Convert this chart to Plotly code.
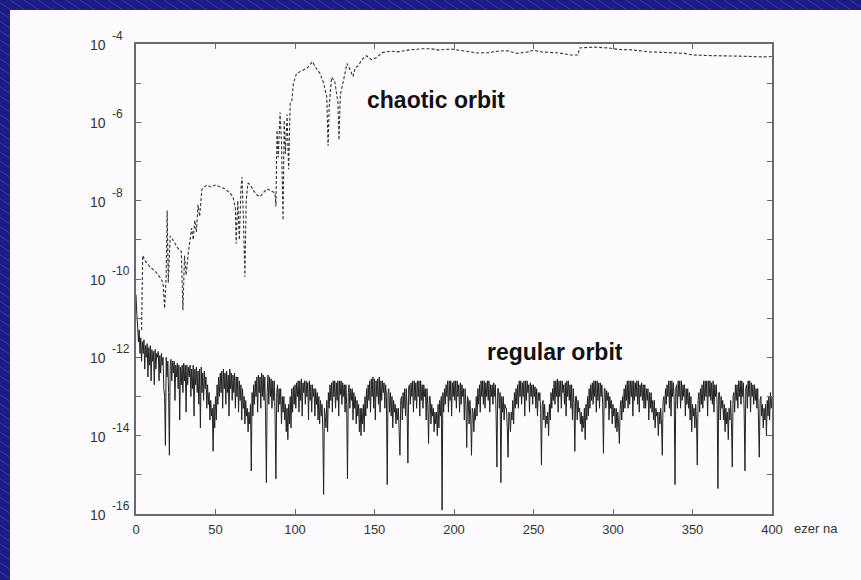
import plotly.graph_objects as go

# ---------------- data (y values as log10 exponents) -------------
CHAOTIC_X = [3.5, 4.2, 6, 9, 12, 15, 17, 18, 19, 19.6, 20.3, 21.5, 24, 26, 28.5, 29.5, 30.5,
             31.5, 33, 35, 36, 37, 38, 39, 40, 41.5, 44.5, 47, 50, 53, 56, 59, 61, 62.5, 63,
             64, 65, 66, 66.7, 67.5, 68.5, 69.3, 70.4, 72, 74, 76, 78, 80, 82.4, 85, 87.4, 88,
             88.7, 89.5, 90.6, 91.5, 92.5, 93.2, 94, 95, 96, 97, 98, 99, 101, 105, 108, 111,
             113, 115.7, 118, 120, 120.8, 121.5, 123, 125, 127, 127.7, 128.5, 129.6, 132.7,
             134, 136.5, 138, 140, 142, 145, 148, 151, 155, 160, 165, 172, 180, 185, 190, 198,
             207, 215, 222, 228, 233, 240, 247, 250, 255, 262, 268, 273, 278, 279, 288, 297,
             303, 312, 323, 335, 345, 350, 365, 380, 395, 400]
CHAOTIC_LOG = [-11.3, -9.4, -9.55, -9.7, -9.8, -9.95, -10.1, -10.75, -9.9, -8.25, -10.1, -8.9,
               -9.05, -9.2, -9.3, -10.8, -9.4, -9.9, -9.3, -8.7, -9.0, -8.5, -8.8, -8.1, -8.4,
               -7.7, -7.6, -7.65, -7.6, -7.65, -7.7, -7.8, -7.9, -8.2, -9.1, -8.0, -9.0, -7.7,
               -7.4, -8.4, -9.95, -8.0, -7.55, -7.6, -7.75, -7.85, -7.9, -7.8, -7.7, -7.75,
               -7.8, -8.15, -6.2, -6.9, -5.75, -6.5, -8.5, -5.95, -6.8, -5.8, -7.2, -5.5,
               -5.45, -5.0, -4.75, -4.67, -4.6, -4.45, -4.6, -4.75, -5.0, -5.35, -6.6, -5.6,
               -4.85, -4.95, -5.5, -6.45, -5.3, -5.1, -4.5, -4.6, -4.83, -4.6, -4.55, -4.4,
               -4.3, -4.4, -4.35, -4.22, -4.18, -4.2, -4.15, -4.12, -4.12, -4.15, -4.13,
               -4.18, -4.23, -4.22, -4.18, -4.17, -4.24, -4.2, -4.16, -4.2, -4.22, -4.24,
               -4.28, -4.28, -4.1, -4.08, -4.1, -4.14, -4.15, -4.2, -4.22, -4.24, -4.28, -4.3,
               -4.31, -4.33, -4.32]

# regular orbit, sampled every 0.5 (thousand years) from 0 to 400
REGULAR_LOG = [
    -10.4, -10.9, -11.2, -11.6, -11.3, -11.9, -11.5, -12.1, -11.6, -11.9, -11.55, -12.3, -11.7, -12.0, -11.65, -12.5, -11.75, -12.2, -11.7, -12.6,
    -11.8, -12.1, -11.85, -12.7, -11.8, -12.3, -11.9, -12.0, -11.85, -12.6, -11.95, -12.4, -11.9, -12.2, -12.0, -12.8, -13.0, -14.25, -12.0, -12.5,
    -12.1, -12.9, -14.5, -12.2, -12.05, -12.6, -12.1, -12.4, -12.1, -13.1, -12.2, -12.5, -12.15, -12.8, -12.2, -13.6, -12.25, -12.7, -12.2, -12.9,
    -12.15, -12.6, -12.2, -13.4, -12.2, -12.7, -12.25, -12.5, -12.2, -13.0, -12.3, -12.8, -12.2, -13.5, -12.3, -12.7, -12.25, -12.9, -12.35, -13.2,
    -12.3, -13.8, -12.25, -12.9, -12.4, -13.1, -12.35, -12.8, -12.5, -13.3, -12.7, -13.2, -12.9, -13.6, -13.1, -13.5, -13.3, -14.4, -13.2, -13.8,
    -13.0, -13.6, -12.7, -13.2, -12.5, -13.0, -12.4, -12.9, -12.35, -13.3, -12.3, -12.8, -12.4, -13.2, -12.35, -12.9, -12.45, -13.5, -12.3, -12.8,
    -12.4, -13.1, -12.45, -12.9, -12.4, -13.3, -12.5, -13.0, -12.5, -13.4, -12.6, -13.1, -12.7, -13.6, -12.8, -13.3, -13.0, -13.7, -13.1, -13.5,
    -13.3, -13.9, -13.4, -13.7, -13.2, -14.9, -12.9, -13.5, -12.7, -13.2, -12.6, -13.0, -12.5, -13.4, -12.45, -12.9, -12.5, -13.3, -12.4, -13.0,
    -12.45, -13.1, -12.5, -13.5, -15.2, -12.9, -12.45, -13.2, -12.5, -13.0, -12.55, -13.3, -12.6, -13.1, -12.6, -13.6, -15.1, -12.9, -12.7, -13.4,
    -12.8, -13.2, -12.8, -13.7, -13.0, -13.4, -13.0, -13.6, -13.2, -13.9, -13.3, -14.1, -13.2, -13.7, -13.0, -13.8, -12.8, -13.4, -12.75, -13.2,
    -12.7, -13.3, -12.65, -13.0, -12.6, -13.4, -12.6, -13.1, -12.55, -13.5, -12.65, -12.9, -12.6, -13.2, -12.6, -13.0, -12.65, -13.6, -12.6, -13.1,
    -12.7, -13.4, -12.7, -13.0, -12.8, -13.5, -12.8, -13.2, -12.9, -13.6, -13.0, -13.7, -13.1, -13.5, -13.2, -13.9, -15.5, -13.3, -13.5, -13.8,
    -13.1, -13.9, -12.9, -13.3, -12.7, -13.1, -12.65, -13.4, -12.6, -13.0, -12.6, -13.3, -12.65, -13.1, -12.6, -13.5, -12.6, -12.95, -12.6, -13.2,
    -12.65, -13.0, -12.7, -13.4, -12.7, -13.2, -15.1, -12.9, -12.7, -13.3, -12.8, -13.1, -12.8, -13.6, -12.9, -13.3, -13.0, -13.7, -13.1, -13.5,
    -13.2, -13.9, -13.3, -14.0, -13.3, -13.7, -13.2, -13.9, -13.0, -13.5, -12.8, -13.3, -12.7, -13.1, -12.6, -13.4, -12.55, -13.0, -12.5, -13.3,
    -12.55, -13.6, -12.6, -13.0, -12.55, -13.2, -12.5, -13.4, -12.6, -13.1, -12.6, -12.9, -12.65, -13.3, -12.7, -13.0, -15.25, -12.9, -12.8, -13.4,
    -12.9, -13.5, -13.0, -13.8, -13.1, -13.4, -13.2, -13.7, -13.3, -13.6, -13.3, -13.9, -14.5, -13.1, -13.0, -13.6, -12.9, -13.3, -12.8, -13.5,
    -12.8, -13.3, -14.7, -12.75, -12.7, -13.2, -12.65, -13.0, -12.6, -13.4, -12.6, -13.1, -12.65, -13.3, -12.6, -13.0, -12.6, -13.5, -12.6, -13.1,
    -12.7, -13.3, -12.7, -13.0, -12.8, -13.6, -12.8, -13.2, -14.2, -13.0, -13.0, -13.7, -13.2, -13.5, -13.3, -13.9, -13.4, -13.7, -13.4, -14.0,
    -13.2, -13.8, -13.1, -13.5, -13.0, -15.9, -12.9, -13.4, -12.8, -13.2, -12.7, -13.0, -12.6, -13.4, -12.6, -13.1, -12.6, -13.5, -12.65, -13.0,
    -12.6, -13.1, -12.6, -13.3, -12.6, -13.0, -12.7, -13.4, -12.65, -13.2, -12.7, -13.0, -12.8, -13.6, -12.8, -13.2, -14.3, -13.0, -13.1, -13.7,
    -13.1, -13.5, -14.5, -13.3, -13.4, -13.9, -13.3, -13.6, -13.0, -13.5, -12.8, -13.2, -12.7, -13.4, -12.6, -13.0, -12.6, -13.2, -12.6, -13.3,
    -12.65, -13.0, -12.6, -13.1, -12.6, -13.4, -12.7, -13.0, -12.7, -13.2, -12.65, -13.0, -12.7, -13.5, -14.8, -12.8, -12.8, -13.3, -12.9, -15.2,
    -13.0, -13.4, -13.0, -13.6, -13.2, -13.3, -13.3, -13.8, -14.55, -13.4, -13.5, -13.9, -13.4, -13.6, -13.1, -13.7, -12.9, -13.3, -12.8, -13.2,
    -12.7, -13.3, -12.6, -13.0, -12.6, -13.2, -12.65, -13.0, -12.6, -13.5, -12.6, -13.1, -12.6, -12.9, -12.7, -13.4, -12.65, -13.0, -12.7, -13.2,
    -12.7, -13.0, -12.75, -13.3, -12.8, -13.5, -12.9, -13.1, -12.9, -13.4, -14.75, -13.2, -13.1, -13.6, -13.2, -13.8, -13.5, -13.7, -13.4, -14.0,
    -13.2, -13.6, -12.9, -13.3, -12.8, -13.1, -12.6, -13.2, -12.6, -13.0, -12.55, -13.4, -12.6, -13.0, -12.6, -13.3, -12.6, -12.9, -12.7, -13.2,
    -12.65, -13.5, -12.6, -13.0, -12.6, -13.1, -12.7, -13.3, -12.7, -13.6, -12.8, -13.2, -14.4, -13.0, -13.0, -13.6, -13.1, -13.4, -13.3, -13.7,
    -13.4, -13.9, -13.5, -13.8, -13.3, -14.1, -13.2, -13.6, -13.0, -13.5, -12.8, -13.3, -12.7, -13.1, -12.65, -13.2, -12.6, -13.0, -12.6, -13.4,
    -12.6, -13.1, -12.65, -13.3, -12.65, -13.0, -12.7, -13.2, -14.45, -12.8, -12.8, -13.3, -12.85, -13.1, -12.9, -13.6, -13.0, -13.3, -13.1, -13.7,
    -13.2, -13.5, -13.3, -13.8, -13.3, -13.9, -13.4, -13.7, -14.2, -13.3, -13.1, -13.6, -13.0, -13.4, -12.8, -13.3, -12.7, -13.1, -12.6, -13.3,
    -12.6, -13.2, -12.6, -13.0, -12.6, -13.5, -12.6, -13.1, -12.65, -13.0, -12.6, -13.2, -12.6, -13.4, -12.7, -13.0, -12.65, -13.1, -12.7, -13.3,
    -12.7, -13.3, -12.8, -13.1, -12.8, -13.6, -12.9, -13.3, -12.9, -13.4, -13.1, -13.6, -13.1, -13.8, -13.3, -13.5, -13.4, -14.0, -13.4, -13.7,
    -13.3, -13.7, -14.5, -13.1, -13.0, -13.4, -12.8, -13.2, -12.7, -13.0, -12.6, -13.3, -12.6, -13.5, -12.6, -13.0, -12.65, -13.1, -15.25, -12.8,
    -12.7, -13.3, -12.6, -13.0, -12.6, -13.3, -12.6, -13.1, -12.7, -13.0, -12.7, -13.5, -12.8, -13.2, -12.8, -13.3, -12.9, -13.6, -13.0, -13.9,
    -13.2, -13.5, -13.3, -13.8, -13.2, -13.6, -14.75, -13.1, -12.9, -13.4, -12.8, -13.2, -12.7, -13.3, -12.6, -13.1, -12.6, -13.0, -12.6, -13.5,
    -12.6, -13.0, -12.6, -13.1, -12.65, -13.2, -12.6, -13.4, -12.7, -13.0, -12.7, -13.2, -15.35, -12.9, -12.9, -13.6, -13.0, -13.3, -13.1, -13.6,
    -13.2, -13.9, -13.3, -13.7, -13.4, -14.1, -13.3, -13.6, -13.1, -13.7, -14.8, -13.0, -12.9, -13.4, -12.7, -13.1, -12.7, -13.3, -12.6, -13.0,
    -12.6, -13.2, -12.6, -13.0, -12.65, -13.4, -14.9, -12.8, -12.7, -13.3, -12.6, -13.0, -12.6, -13.4, -12.65, -13.0, -12.7, -13.2, -12.7, -13.1,
    -12.8, -13.3, -12.8, -13.6, -14.55, -13.1, -13.0, -13.5, -13.2, -13.8, -13.3, -13.6, -13.2, -14.0, -13.1, -13.5, -13.0, -13.6, -12.9, -13.3,
    -13.0,
]
REGULAR_STEP = 0.5
REGULAR_X = [i * REGULAR_STEP for i in range(len(REGULAR_LOG))]

X_TICKS = [0, 50, 100, 150, 200, 250, 300, 350, 400]
Y_TICK_EXP = [-16, -15, -14, -13, -12, -11, -10, -9, -8, -7, -6, -5, -4]
Y_LABEL_EXP = [-4, -6, -8, -10, -12, -14, -16]
X_UNIT = "ezer na"
LABEL_CHAOTIC = "chaotic orbit"
LABEL_REGULAR = "regular orbit"

# ---------------- figure ----------------
W, H = 861, 580
L, R, T, B = 136, 89, 44, 66
PW, PH = W - L - R, H - T - B

def px2paper(px, py):
    return (px - L) / PW, (H - B - py) / PH

FONT = "Liberation Sans, Arial, Helvetica, sans-serif"
BLUE = "#1c1c82"
STRIPE = "#3b3ba6"
PANEL = "#fdfbfd"
AXIS = "#6a6a6a"

fig = go.Figure()
fig.add_trace(go.Scatter(
    x=REGULAR_X, y=[10 ** v for v in REGULAR_LOG], mode="lines",
    line=dict(color="#222222", width=1.0, simplify=False),
    showlegend=False, hoverinfo="skip"))
fig.add_trace(go.Scatter(
    x=CHAOTIC_X, y=[10 ** v for v in CHAOTIC_LOG], mode="lines",
    line=dict(color="#333333", width=1.1, dash="3px,2px", simplify=False),
    showlegend=False, hoverinfo="skip"))

shapes = []
# diagonal stripes on the blue frame
a = -900
while a < W + 20:
    x0, y0 = px2paper(a, 0)
    x1, y1 = px2paper(a + 870, 580)
    shapes.append(dict(type="line", xref="paper", yref="paper", x0=x0, y0=y0, x1=x1, y1=y1,
                       line=dict(color=STRIPE, width=1), layer="below"))
    a += 14
# white slide panel
x0, y0 = px2paper(10, 10)
x1, y1 = px2paper(W + 2, H + 2)
shapes.append(dict(type="rect", xref="paper", yref="paper", x0=x0, y0=y1, x1=x1, y1=y0,
                   fillcolor=PANEL, line=dict(width=0), layer="below"))

annotations = []
for e in Y_LABEL_EXP:
    annotations.append(dict(xref="paper", yref="y", x=0, y=e, text="10", showarrow=False,
                            xanchor="right", yanchor="middle", xshift=-28, yshift=-1,
                            font=dict(family=FONT, size=14, color="#333333")))
    annotations.append(dict(xref="paper", yref="y", x=0, y=e, text=str(e), showarrow=False,
                            xanchor="left", yanchor="middle", xshift=-26, yshift=8,
                            font=dict(family=FONT, size=12, color="#333333")))
annotations.append(dict(xref="x", yref="paper", x=400, y=0, text=X_UNIT, showarrow=False,
                        xanchor="left", yanchor="middle", xshift=20, yshift=-14,
                        font=dict(family=FONT, size=13, color="#333333")))
annotations.append(dict(xref="x", yref="y", x=144, y=-5.43, text="<b>" + LABEL_CHAOTIC + "</b>",
                        showarrow=False, xanchor="left", yanchor="middle",
                        font=dict(family=FONT, size=23, color="#111111")))
annotations.append(dict(xref="x", yref="y", x=219.5, y=-11.86, text="<b>" + LABEL_REGULAR + "</b>",
                        showarrow=False, xanchor="left", yanchor="middle",
                        font=dict(family=FONT, size=23, color="#111111")))

fig.update_layout(
    width=W, height=H, autosize=False,
    margin=dict(l=L, r=R, t=T, b=B, pad=0),
    paper_bgcolor=BLUE, plot_bgcolor=PANEL,
    shapes=shapes, annotations=annotations,
    xaxis=dict(range=[0, 400], tickvals=X_TICKS, ticks="inside", ticklen=5, tickwidth=1.2,
               tickcolor=AXIS, showline=True, linecolor=AXIS, linewidth=1.5, mirror="ticks",
               showgrid=False, zeroline=False, ticklabelstandoff=3,
               tickfont=dict(family=FONT, size=13, color="#333333")),
    yaxis=dict(type="log", range=[-16, -4], tickvals=[10 ** e for e in Y_TICK_EXP],
               ticks="inside", ticklen=5, tickwidth=1.2, tickcolor=AXIS, showline=True,
               linecolor=AXIS, linewidth=1.5, mirror="ticks", showgrid=False,
               zeroline=False, showticklabels=False),
)

fig.write_html("out.html")
